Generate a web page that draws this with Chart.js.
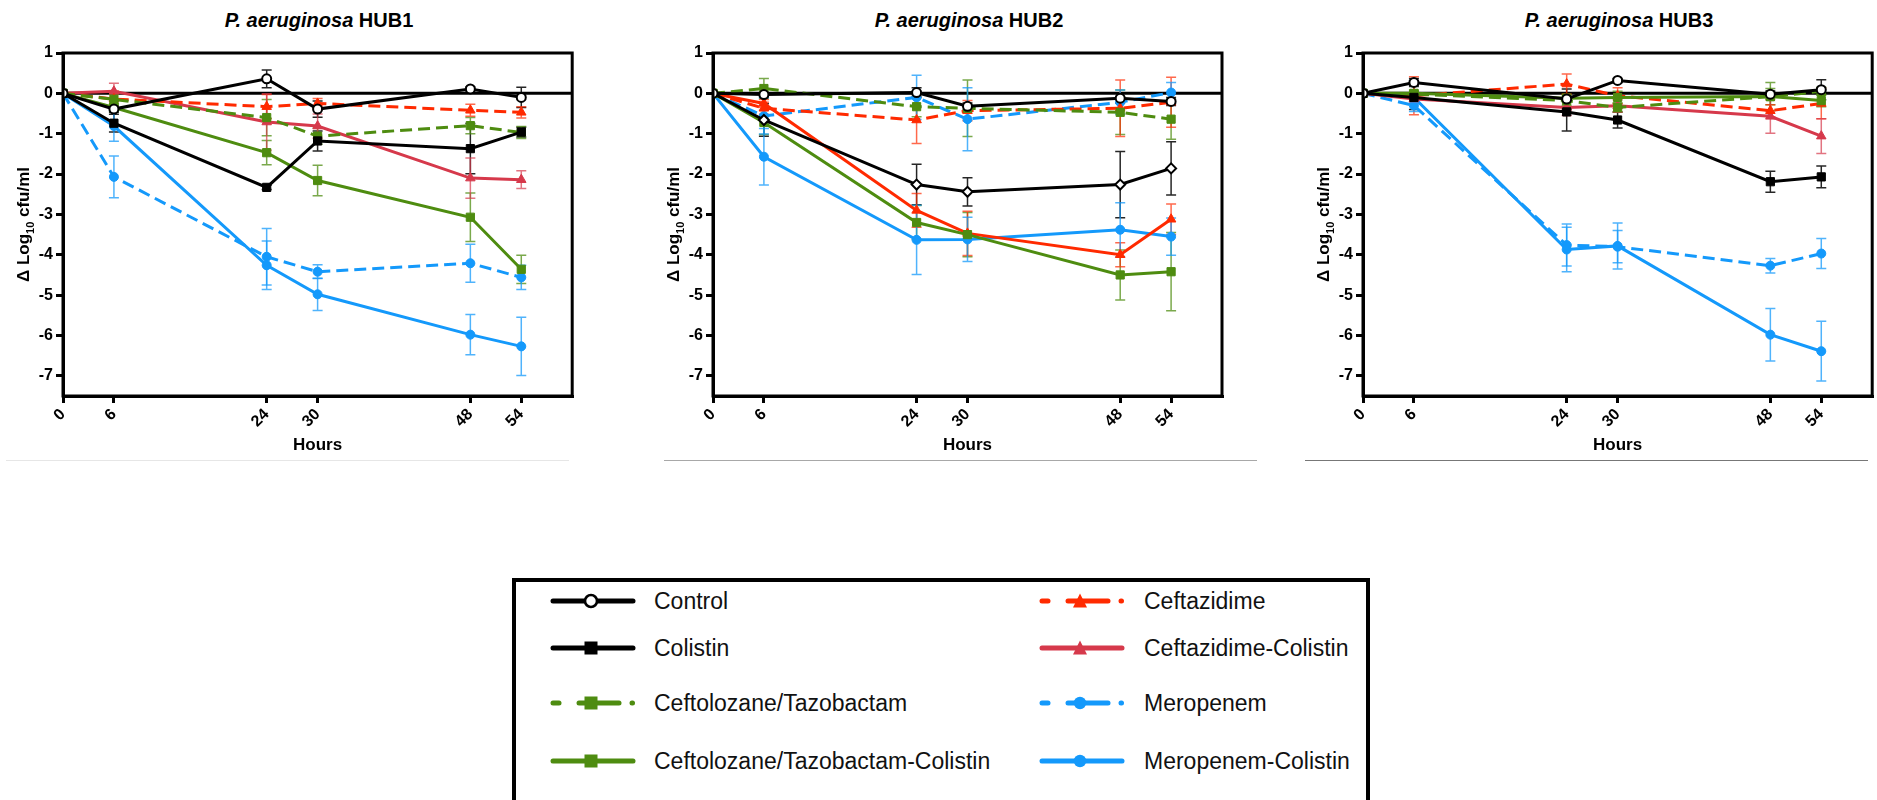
<!DOCTYPE html>
<html>
<head>
<meta charset="utf-8">
<script src="https://cdn.jsdelivr.net/npm/chart.js@4.4.1/dist/chart.umd.min.js"></script>
<style>
body {
  margin: 0;
  width: 1877px;
  height: 800px;
  overflow: hidden;
  background: #fff;
  position: relative;
  font-family: "Liberation Sans", Arial, sans-serif;
}
.panel { position: absolute; top: 0; width: 579px; height: 470px; }
.panel canvas { position: absolute; left: 0; top: 0; }
.title {
  position: absolute; top: 8px; left: 63px; width: 512px;
  text-align: center; font-weight: bold; font-size: 20px; line-height: 24px;
  color: #000;
}
.sep { position: absolute; top: 460px; height: 1px; }
#legend {
  position: absolute; left: 512px; top: 578px; width: 858px; height: 260px;
  border: 4px solid #000; box-sizing: border-box;
}
.lg-text {
  position: absolute; height: 28px; line-height: 28px; font-size: 23px; color: #111;
  white-space: nowrap;
}
.lg-svg { position: absolute; }
</style>
</head>
<body>
<div class="sep" style="left:6px;width:563px;background:#e6e6e6"></div>
<div class="sep" style="left:664px;width:593px;background:#a8a8a8"></div>
<div class="sep" style="left:1305px;width:563px;background:#777"></div>
<div id="legend"></div>

<script>
const hours = [0, 6, 24, 30, 48, 54];
const yTicks = [1, 0, -1, -2, -3, -4, -5, -6, -7];
const strainNames = ['HUB1', 'HUB2', 'HUB3'];
const seriesNames = ['Control', 'Colistin', 'Ceftolozane/Tazobactam', 'Ceftolozane/Tazobactam-Colistin',
  'Ceftazidime', 'Ceftazidime-Colistin', 'Meropenem', 'Meropenem-Colistin'];

// HUB1 (mean, sd)
const hub1Control = [0, -0.39, 0.36, -0.39, 0.11, -0.10];
const hub1ControlSd = [0, 0.08, 0.22, 0.2, 0.05, 0.25];
const hub1Colistin = [0, -0.74, -2.33, -1.18, -1.37, -0.96];
const hub1ColistinSd = [0, 0.22, 0.05, 0.25, 0.62, 0.12];
const hub1CT = [0, -0.15, -0.6, -1.06, -0.8, -0.97];
const hub1CTSd = [0, 0.12, 0.45, 0.2, 0.2, 0.15];
const hub1CTCol = [0, -0.35, -1.47, -2.16, -3.07, -4.36];
const hub1CTColSd = [0, 0.1, 0.3, 0.38, 0.6, 0.35];
const hub1Caz = [0, -0.14, -0.33, -0.25, -0.42, -0.47];
const hub1CazSd = [0, 0.2, 0.3, 0.12, 0.15, 0.14];
const hub1CazCol = [0, 0.05, -0.71, -0.81, -2.1, -2.14];
const hub1CazColSd = [0, 0.2, 0.7, 0.3, 0.5, 0.22];
const hub1Mem = [0, -2.07, -4.05, -4.42, -4.21, -4.56];
const hub1MemSd = [0, 0.52, 0.7, 0.17, 0.47, 0.3];
const hub1MemCol = [0, -0.81, -4.26, -4.98, -5.98, -6.27];
const hub1MemColSd = [0, 0.38, 0.6, 0.4, 0.5, 0.72];

// HUB2
const hub2Control = [0, -0.03, 0.02, -0.32, -0.12, -0.2];
const hub2ControlSd = [0, 0.06, 0.12, 0.08, 0.12, 0.1];
const hub2Colistin = [0, -0.66, -2.26, -2.44, -2.26, -1.86];
const hub2ColistinSd = [0, 0.4, 0.5, 0.35, 0.82, 0.66];
const hub2CT = [0, 0.12, -0.33, -0.37, -0.47, -0.64];
const hub2CTSd = [0, 0.25, 0.25, 0.7, 0.55, 0.5];
const hub2CTCol = [0, -0.72, -3.2, -3.5, -4.5, -4.42];
const hub2CTColSd = [0, 0.3, 0.42, 0.55, 0.62, 0.97];
const hub2Caz = [0, -0.37, -0.66, -0.43, -0.37, -0.22];
const hub2CazSd = [0, 0.15, 0.58, 0.25, 0.7, 0.62];
const hub2CazCol = [0, -0.25, -2.9, -3.47, -4.0, -3.12];
const hub2CazColSd = [0, 0.1, 0.42, 0.55, 0.3, 0.38];
const hub2Mem = [0, -0.56, -0.1, -0.64, -0.22, 0.02];
const hub2MemSd = [0, 0.45, 0.55, 0.78, 0.3, 0.25];
const hub2MemCol = [0, -1.57, -3.63, -3.62, -3.38, -3.55];
const hub2MemColSd = [0, 0.7, 0.86, 0.55, 0.67, 0.46];

// HUB3
const hub3Control = [0, 0.27, -0.14, 0.32, -0.02, 0.09];
const hub3ControlSd = [0, 0.1, 0.25, 0.05, 0.08, 0.25];
const hub3Colistin = [0, -0.1, -0.46, -0.66, -2.19, -2.07];
const hub3ColistinSd = [0, 0.3, 0.47, 0.2, 0.26, 0.27];
const hub3CT = [0, -0.02, -0.18, -0.35, -0.08, 0.05];
const hub3CTSd = [0, 0.1, 0.12, 0.12, 0.35, 0.1];
const hub3CTCol = [0, 0, -0.12, -0.1, -0.08, -0.18];
const hub3CTColSd = [0, 0.05, 0.1, 0.15, 0.2, 0.15];
const hub3Caz = [0, -0.06, 0.23, -0.06, -0.43, -0.25];
const hub3CazSd = [0, 0.47, 0.25, 0.2, 0.15, 0.38];
const hub3CazCol = [0, -0.14, -0.35, -0.31, -0.57, -1.06];
const hub3CazColSd = [0, 0.1, 0.2, 0.15, 0.42, 0.43];
const hub3Mem = [0, -0.3, -3.76, -3.8, -4.27, -3.97];
const hub3MemSd = [0, 0.15, 0.52, 0.4, 0.18, 0.37];
const hub3MemCol = [0, -0.1, -3.87, -3.78, -5.98, -6.39];
const hub3MemColSd = [0, 0.1, 0.55, 0.57, 0.65, 0.74];

const FONT = "'Liberation Sans', Arial, sans-serif";
const GREEN = '#4e8c10', RED = '#ff2a00', CRIMSON = '#d6394b', BLUE = '#1499fb';

const baseStyles = [
  { color: '#000', dash: [], point: 'circle', r: 4.5, open: true, err: 'rgba(0,0,0,0.85)' },
  { color: '#000', dash: [], point: 'rect', r: 5.8, err: 'rgba(0,0,0,0.85)' },
  { color: GREEN, dash: [12, 6], point: 'rect', r: 5.8, err: 'rgba(78,140,16,0.75)' },
  { color: GREEN, dash: [], point: 'rect', r: 5.8, err: 'rgba(78,140,16,0.75)' },
  { color: RED, dash: [12, 6], point: 'triangle', r: 5.5, err: 'rgba(255,42,0,0.7)' },
  { color: CRIMSON, dash: [], point: 'triangle', r: 5.5, err: 'rgba(214,57,75,0.7)' },
  { color: BLUE, dash: [12, 6], point: 'circle', r: 4.5, err: 'rgba(20,153,251,0.75)' },
  { color: BLUE, dash: [], point: 'circle', r: 4.5, err: 'rgba(20,153,251,0.75)' },
];

const panels = [
  { left: 0, name: strainNames[0],
    values: [hub1Control, hub1Colistin, hub1CT, hub1CTCol, hub1Caz, hub1CazCol, hub1Mem, hub1MemCol],
    errors: [hub1ControlSd, hub1ColistinSd, hub1CTSd, hub1CTColSd, hub1CazSd, hub1CazColSd, hub1MemSd, hub1MemColSd],
    override: {} },
  { left: 650, name: strainNames[1],
    values: [hub2Control, hub2Colistin, hub2CT, hub2CTCol, hub2Caz, hub2CazCol, hub2Mem, hub2MemCol],
    errors: [hub2ControlSd, hub2ColistinSd, hub2CTSd, hub2CTColSd, hub2CazSd, hub2CazColSd, hub2MemSd, hub2MemColSd],
    override: { 1: { point: 'rectRot', r: 5, open: true }, 5: { color: RED, err: 'rgba(255,42,0,0.7)' } } },
  { left: 1300, name: strainNames[2],
    values: [hub3Control, hub3Colistin, hub3CT, hub3CTCol, hub3Caz, hub3CazCol, hub3Mem, hub3MemCol],
    errors: [hub3ControlSd, hub3ColistinSd, hub3CTSd, hub3CTColSd, hub3CazSd, hub3CazColSd, hub3MemSd, hub3MemColSd],
    override: {} },
];

const decor = {
  id: 'decor',
  beforeDatasetsDraw(chart) {
    const { ctx, chartArea: a, scales: { x, y } } = chart;
    ctx.save();
    ctx.strokeStyle = '#000';
    ctx.lineWidth = 3;
    const y0 = y.getPixelForValue(0);
    ctx.beginPath(); ctx.moveTo(a.left, y0); ctx.lineTo(a.right, y0); ctx.stroke();
    chart.data.datasets.forEach(ds => {
      ctx.strokeStyle = ds.errColor;
      ctx.lineWidth = 1.5;
      ds.errors.forEach((e, j) => {
        if (!e) return;
        const px = x.getPixelForValue(ds.data[j].x);
        const t = y.getPixelForValue(ds.data[j].y + e);
        const b = y.getPixelForValue(ds.data[j].y - e);
        ctx.beginPath();
        ctx.moveTo(px, t); ctx.lineTo(px, b);
        ctx.moveTo(px - 5, t); ctx.lineTo(px + 5, t);
        ctx.moveTo(px - 5, b); ctx.lineTo(px + 5, b);
        ctx.stroke();
      });
    });
    ctx.restore();
  },
  afterDraw(chart) {
    const { ctx, chartArea: a } = chart;
    ctx.save();
    ctx.strokeStyle = '#000';
    ctx.lineWidth = 3;
    ctx.strokeRect(a.left, a.top, a.right - a.left, a.bottom - a.top);
    // x title
    ctx.fillStyle = '#000';
    ctx.font = 'bold 17px ' + FONT;
    ctx.textAlign = 'center';
    ctx.textBaseline = 'middle';
    ctx.fillText('Hours', (a.left + a.right) / 2, 445);
    // y title with subscript
    const big = 'bold 17px ' + FONT, small = 'bold 11px ' + FONT;
    const parts = [['\u0394 Log', big, 0], ['10', small, 5], [' cfu/ml', big, 0]];
    let total = 0;
    parts.forEach(p => { ctx.font = p[1]; p.push(ctx.measureText(p[0]).width); total += p[3]; });
    ctx.translate(a.left - 40, (a.top + a.bottom) / 2);
    ctx.rotate(-Math.PI / 2);
    ctx.textAlign = 'left';
    ctx.textBaseline = 'alphabetic';
    let cx = -total / 2;
    parts.forEach(p => { ctx.font = p[1]; ctx.fillText(p[0], cx, 6 + p[2]); cx += p[3]; });
    ctx.restore();
  }
};

const tickFont = { family: FONT, size: 16, weight: 'bold' };

panels.forEach(panel => {
  const wrap = document.createElement('div');
  wrap.className = 'panel';
  wrap.style.left = panel.left + 'px';
  wrap.innerHTML = `<div class="title"><i>P. aeruginosa</i> ${panel.name}</div><canvas width="579" height="470"></canvas>`;
  document.body.appendChild(wrap);

  const datasets = panel.values.map((vals, i) => {
    const st = Object.assign({}, baseStyles[i], panel.override[i] || {});
    return {
      label: seriesNames[i],
      data: hours.map((h, j) => ({ x: h, y: vals[j] })),
      errors: panel.errors[i],
      errColor: st.err,
      borderColor: st.color,
      backgroundColor: st.color,
      borderWidth: 3,
      borderDash: st.dash,
      tension: 0,
      fill: false,
      pointStyle: st.point,
      pointRadius: st.r,
      pointBorderWidth: st.open ? 2 : 1,
      pointBorderColor: st.color,
      pointBackgroundColor: st.open ? '#fff' : st.color,
    };
  });

  new Chart(wrap.querySelector('canvas'), {
    type: 'line',
    data: { datasets: datasets },
    options: {
      responsive: false,
      animation: false,
      devicePixelRatio: 1,
      layout: { padding: { top: 53, right: 4, left: 0, bottom: 0 } },
      plugins: { legend: { display: false }, tooltip: { enabled: false }, title: { display: false } },
      scales: {
        x: {
          type: 'linear', min: 0, max: 60,
          afterBuildTicks: s => { s.ticks = hours.map(v => ({ value: v })); },
          afterFit: s => { s.height = 74; },
          grid: { drawOnChartArea: false, drawTicks: true, tickLength: 7, lineWidth: 3, color: '#000' },
          border: { display: true, width: 3, color: '#000' },
          ticks: { autoSkip: false, minRotation: 45, maxRotation: 45, padding: 2, color: '#000', font: tickFont },
        },
        y: {
          type: 'linear', min: -7.5, max: 1,
          afterBuildTicks: s => { s.ticks = yTicks.map(v => ({ value: v })); },
          afterFit: s => { s.width = 63; },
          grid: { drawOnChartArea: false, drawTicks: true, tickLength: 7, lineWidth: 3, color: '#000' },
          border: { display: true, width: 3, color: '#000' },
          ticks: { padding: 3, color: '#000', font: tickFont },
        }
      }
    },
    plugins: [decor]
  });
});

// legend
const legendRows = [601, 648, 703, 761];
const legend = document.body;
seriesNames.forEach((name, i) => {
  const st = baseStyles[i];
  const col = i < 4 ? 0 : 1;
  const row = i % 4;
  const sx = col ? 1039 : 550;
  const tx = col ? 1144 : 654;
  const cy = legendRows[row];
  let lines;
  if (st.dash.length) {
    lines = `<line x1="3" y1="10" x2="9" y2="10"/><line x1="29" y1="10" x2="69" y2="10"/><line x1="82" y1="10" x2="82.5" y2="10"/>`;
  } else {
    lines = `<line x1="3" y1="10" x2="83" y2="10"/>`;
  }
  let marker;
  if (st.point === 'rect') marker = `<rect x="34.5" y="3.5" width="13" height="13" fill="${st.color}"/>`;
  else if (st.point === 'triangle') marker = `<polygon points="41,2.5 48,16.5 34,16.5" fill="${st.color}"/>`;
  else if (st.open) marker = `<circle cx="41" cy="10" r="6" fill="#fff" stroke="${st.color}" stroke-width="2.6"/>`;
  else marker = `<circle cx="41" cy="10" r="6.2" fill="${st.color}"/>`;
  const svg = document.createElementNS('http://www.w3.org/2000/svg', 'svg');
  svg.setAttribute('class', 'lg-svg');
  svg.setAttribute('width', '86');
  svg.setAttribute('height', '20');
  svg.style.left = sx + 'px';
  svg.style.top = (cy - 10) + 'px';
  svg.innerHTML = `<g stroke="${st.color}" stroke-width="5" stroke-linecap="round">${lines}</g>${marker}`;
  legend.appendChild(svg);
  const t = document.createElement('div');
  t.className = 'lg-text';
  t.style.left = tx + 'px';
  t.style.top = (cy - 14) + 'px';
  t.textContent = name;
  legend.appendChild(t);
});
</script>
</body>
</html>
